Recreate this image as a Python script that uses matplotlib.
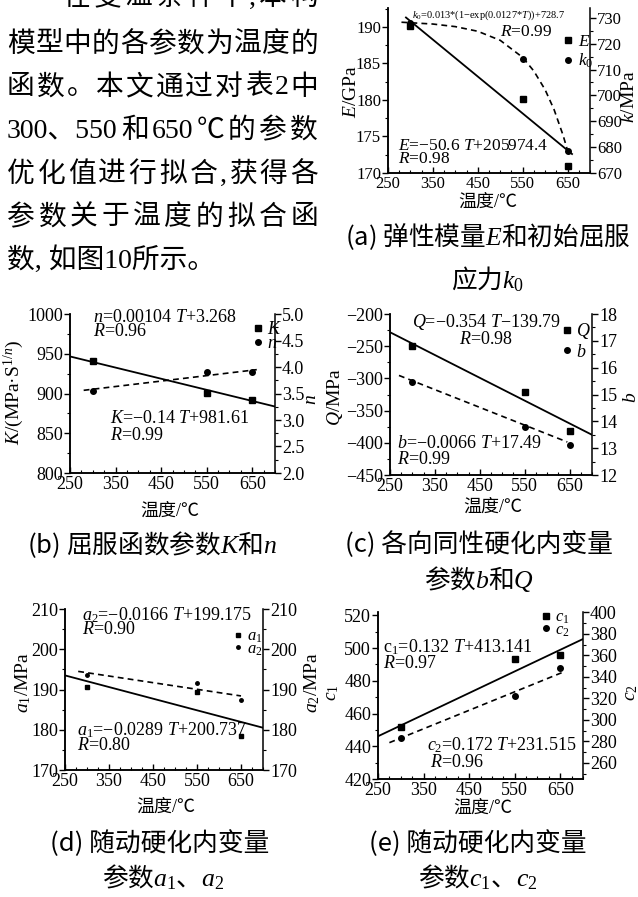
import matplotlib
matplotlib.use('Agg')
import matplotlib.pyplot as plt
from matplotlib.ticker import MultipleLocator, FixedLocator, FormatStrFormatter

plt.rcParams['font.family'] = ['Liberation Serif', 'Noto Sans CJK SC']
plt.rcParams['mathtext.fontset'] = 'custom'
plt.rcParams['mathtext.rm'] = 'Liberation Serif'
plt.rcParams['mathtext.it'] = 'Liberation Serif:italic'
plt.rcParams['axes.linewidth'] = 1.1

# ---- data ----
T_pts = [300, 550, 650]
x_ticks = [250, 350, 450, 550, 650]

# (a) elastic modulus E (GPa) and initial yield stress k0 (MPa)
E_vals = [190.1, 180.2, 171.0]
k0_vals = [728.0, 714.2, 678.5]
E_fit_T = [290, 660]
E_fit = [191.3, 172.6]
k0_fit_T = [280, 350, 400, 450, 500, 550, 575, 600, 620, 640, 650]
k0_fit = [728.3, 727.6, 726.6, 724.8, 721.3, 714.7, 709.4, 702.2, 694.5, 684.6, 678.7]

# (b) yield function K and n
K_vals = [941, 901, 892]
n_vals = [3.55, 3.90, 3.90]
K_fit_T = [250, 700]
K_fit = [946.6, 883.6]
n_fit_T = [280, 660]
n_fit = [3.56, 3.95]

# (c) isotropic hardening b and Q
Q_vals = [-250, -321, -382]
b_vals = [15.47, 13.80, 13.11]
Q_fit_T = [250, 700]
Q_fit = [-228.3, -387.6]
b_fit_T = [270, 645]
b_fit = [15.71, 13.23]

# (d) kinematic hardening a1, a2
a1_vals = [190.6, 189.3, 178.5]
a2_vals = [193.5, 191.6, 187.3]
a1_fit_T = [250, 700]
a1_fit = [193.5, 180.5]
a2_fit_T = [280, 650]
a2_fit = [194.5, 188.4]

# (e) kinematic hardening c1, c2
c1_vals = [451.5, 493.5, 496.0]
c2_vals = [283, 322, 348.5]
c1_fit_T = [250, 700]
c1_fit = [446.1, 505.5]
c2_fit_T = [275, 660]
c2_fit = [278.8, 345.0]

W, H = 638, 897
CJK = 'Noto Sans CJK SC'
MIX = ['Liberation Serif', 'Noto Sans CJK SC']
DASH = (0, (3.5, 2.5))

fig = plt.figure(figsize=(W / 100, H / 100), dpi=100)
renderer = fig.canvas.get_renderer()


def ax_at(l, t, r, b):
    return fig.add_axes([l / W, 1 - b / H, (r - l) / W, (b - t) / H])


def ftext(x, y, s, **kw):
    kw.setdefault('va', 'center')
    return fig.text(x / W, 1 - y / H, s, **kw)


def setup(ax, ax2, ylim1, ylim2, step1, step2, fs, fmt2=None):
    ax.set_xlim(250, 700)
    ax.xaxis.set_major_locator(FixedLocator(x_ticks))
    ax.xaxis.set_minor_locator(MultipleLocator(25))
    ax.set_ylim(*ylim1)
    ax2.set_ylim(*ylim2)
    ax.yaxis.set_major_locator(MultipleLocator(step1))
    ax.yaxis.set_minor_locator(MultipleLocator(step1 / 2))
    ax2.yaxis.set_major_locator(MultipleLocator(step2))
    ax2.yaxis.set_minor_locator(MultipleLocator(step2 / 2))
    if fmt2:
        ax2.yaxis.set_major_formatter(FormatStrFormatter(fmt2))
    for a in (ax, ax2):
        a.spines['top'].set_visible(False)
    ax.spines['right'].set_visible(False)
    ax.tick_params(axis='x', which='major', direction='in', length=4, width=1,
                   labelsize=fs, pad=2)
    ax.tick_params(axis='x', which='minor', direction='in', length=2.5, width=0.8)
    for a in (ax, ax2):
        a.tick_params(axis='y', which='major', direction='out', length=4, width=1,
                      labelsize=fs, pad=1)
        a.tick_params(axis='y', which='minor', direction='out', length=2.5, width=0.8)


def legend(ax, handles, labels, x, y, fs, spacing):
    ax.legend(handles, labels, loc='upper left', bbox_to_anchor=(x / W, 1 - y / H),
              bbox_transform=fig.transFigure, frameon=False, handlelength=0.5,
              handletextpad=0.3, borderpad=0, borderaxespad=0,
              labelspacing=spacing, fontsize=fs)


def body_line(tokens, y, x0, x1=None):
    objs = [ftext(0, y, t, fontsize=20, family=MIX, fontweight='light') for t in tokens]
    ws = [o.get_window_extent(renderer).width for o in objs]
    gap = 0 if x1 is None or len(objs) < 2 else (x1 - x0 - sum(ws)) / (len(objs) - 1)
    x = x0
    for o, w in zip(objs, ws):
        o.set_x(x / W)
        x += w + gap


# ---- body text ----
body_line(list('在变温条件下') + [','] + list('本构'), -2, 63, 318)
body_line(list('模型中的各参数为温度的'), 45, 7, 318)
body_line(['函', '数', '。', '本', '文', '通', '过', '对', '表', '2', '中'], 88, 7, 318)
body_line(['300、550', '和', '650', '℃', '的', '参', '数'], 131, 7, 318)
body_line(list('优化值进行拟合') + [','] + list('获得各'), 175, 7, 318)
body_line(list('参数关于温度的拟合函'), 218, 7, 318)
body_line(['数, 如图10所示。'], 260, 7)

msq = dict(ls='none', marker='s', ms=4, color='black')
mci = dict(ls='none', marker='o', ms=4, color='black')

# ---- (a) ----
ax = ax_at(388, 8, 590, 173)
ax2 = ax.twinx()
setup(ax, ax2, (170, 192.6), (670, 733.8), 5, 10, 12)
ax.plot(E_fit_T, E_fit, color='black', lw=1.3)
ax2.plot(k0_fit_T, k0_fit, color='black', lw=1.2, ls=DASH)
hE, = ax.plot(T_pts, E_vals, **msq)
hk, = ax2.plot(T_pts, k0_vals, **mci)
legend(ax2, [hE, hk], ['$E$', '$k_0$'], 564, 34, 12.5, 0.1)
ftext(412, 15, '$k_0$=0.013*(1−exp(0.0127*$T$))+728.7', fontsize=7.5)
ftext(500, 32, '$R$=0.99', fontsize=12.5)
ftext(398, 146, '$E$=−50.6 $T$+205974.4', fontsize=12.5)
ftext(398, 159, '$R$=0.98', fontsize=12.5)
ftext(352, 92, '$E$/GPa', fontsize=14, rotation=90, ha='center')
ftext(630, 97, '$k$/MPa', fontsize=14, rotation=90, ha='center')
ftext(488, 202, '温度/℃', fontsize=13, ha='center', family=MIX)
ftext(488, 237, '(a) 弹性模量$E$和初始屈服', fontsize=18.5, ha='center', family=CJK)
ftext(488, 280, '应力$k_0$', fontsize=18.5, ha='center', family=CJK)

# ---- (b) ----
ax = ax_at(70, 314, 275, 473)
ax2 = ax.twinx()
setup(ax, ax2, (800, 1000), (2.0, 5.0), 50, 0.5, 13, '%.1f')
ax.plot(K_fit_T, K_fit, color='black', lw=1.3)
ax2.plot(n_fit_T, n_fit, color='black', lw=1.2, ls=DASH)
hK, = ax.plot(T_pts, K_vals, **msq)
hn, = ax2.plot(T_pts, n_vals, **mci)
legend(ax2, [hK, hn], ['$K$', '$n$'], 253, 321, 13, -0.15)
ftext(93, 317, '$n$=0.00104 $T$+3.268', fontsize=13)
ftext(93, 332, '$R$=0.96', fontsize=13)
ftext(110, 418, '$K$=−0.14 $T$+981.61', fontsize=13)
ftext(110, 435, '$R$=0.99', fontsize=13)
ftext(14, 392, '$K$/(MPa·S$^{1/n}$)', fontsize=14, rotation=90, ha='center')
ftext(311, 400, '$n$', fontsize=14, rotation=90, ha='center')
ftext(170, 511, '温度/℃', fontsize=13, ha='center', family=MIX)
ftext(152, 545, '(b) 屈服函数参数$K$和$n$', fontsize=18.5, ha='center', family=CJK)

# ---- (c) ----
ax = ax_at(390, 314, 592, 475)
ax2 = ax.twinx()
setup(ax, ax2, (-450, -200), (12, 18), 50, 1, 13)
ax.plot(Q_fit_T, Q_fit, color='black', lw=1.3)
ax2.plot(b_fit_T, b_fit, color='black', lw=1.2, ls=DASH)
hQ, = ax.plot(T_pts, Q_vals, **msq)
hb, = ax2.plot(T_pts, b_vals, **mci)
legend(ax2, [hQ, hb], ['$Q$', '$b$'], 562, 321, 13, 0.15)
ftext(412, 322, '$Q$=−0.354 $T$−139.79', fontsize=13)
ftext(459, 339, '$R$=0.98', fontsize=13)
ftext(397, 443, '$b$=−0.0066 $T$+17.49', fontsize=13)
ftext(397, 460, '$R$=0.99', fontsize=13)
ftext(335, 397, '$Q$/MPa', fontsize=14, rotation=90, ha='center')
ftext(632, 397, '$b$', fontsize=14, rotation=90, ha='center')
ftext(493, 507, '温度/℃', fontsize=13, ha='center', family=MIX)
ftext(479, 545, '(c) 各向同性硬化内变量', fontsize=18.5, ha='center', family=CJK)
ftext(479, 579, '参数$b$和$Q$', fontsize=18.5, ha='center', family=CJK)

# ---- (d) ----
ax = ax_at(65, 609, 263, 770)
ax2 = ax.twinx()
setup(ax, ax2, (170, 210), (170, 210), 10, 10, 13)
ax.plot(a1_fit_T, a1_fit, color='black', lw=1.3)
ax2.plot(a2_fit_T, a2_fit, color='black', lw=1.2, ls=DASH)
ha1, = ax.plot(T_pts, a1_vals, ls='none', marker='s', ms=2.5, color='black')
ha2, = ax2.plot(T_pts, a2_vals, ls='none', marker='o', ms=2.5, color='black')
legend(ax2, [ha1, ha2], ['$a_1$', '$a_2$'], 234, 629, 12, -0.25)
ftext(82, 615, '$a_2$=−0.0166 $T$+199.175', fontsize=13)
ftext(82, 630, '$R$=0.90', fontsize=13)
ftext(77, 730, '$a_1$=−0.0289 $T$+200.737', fontsize=13)
ftext(77, 745, '$R$=0.80', fontsize=13)
ftext(23, 683, '$a_1$/MPa', fontsize=14, rotation=90, ha='center')
ftext(312, 683, '$a_2$/MPa', fontsize=14, rotation=90, ha='center')
ftext(166, 807, '温度/℃', fontsize=13, ha='center', family=MIX)
ftext(160, 844, '(d) 随动硬化内变量', fontsize=18.5, ha='center', family=CJK)
ftext(163, 878, '参数$a_1$、$a_2$', fontsize=18.5, ha='center', family=CJK)

# ---- (e) ----
ax = ax_at(378, 612, 583, 779)
ax2 = ax.twinx()
setup(ax, ax2, (420, 522), (245, 400.3), 20, 20, 13)
ax.plot(c1_fit_T, c1_fit, color='black', lw=1.3)
ax2.plot(c2_fit_T, c2_fit, color='black', lw=1.2, ls=DASH)
hc1, = ax.plot(T_pts, c1_vals, **msq)
hc2, = ax2.plot(T_pts, c2_vals, **mci)
legend(ax2, [hc1, hc2], ['$c_1$', '$c_2$'], 542, 610, 12, -0.25)
ftext(383, 647, 'c$_1$=0.132 $T$+413.141', fontsize=13)
ftext(383, 663, '$R$=0.97', fontsize=13)
ftext(427, 745, '$c_2$=0.172 $T$+231.515', fontsize=13)
ftext(430, 762, '$R$=0.96', fontsize=13)
ftext(332, 693, '$c_1$', fontsize=14, rotation=90, ha='center')
ftext(631, 693, '$c_2$', fontsize=14, rotation=90, ha='center')
ftext(483, 808, '温度/℃', fontsize=13, ha='center', family=MIX)
ftext(478, 844, '(e) 随动硬化内变量', fontsize=18.5, ha='center', family=CJK)
ftext(478, 878, '参数$c_1$、$c_2$', fontsize=18.5, ha='center', family=CJK)

fig.savefig('out.png', dpi=100)
